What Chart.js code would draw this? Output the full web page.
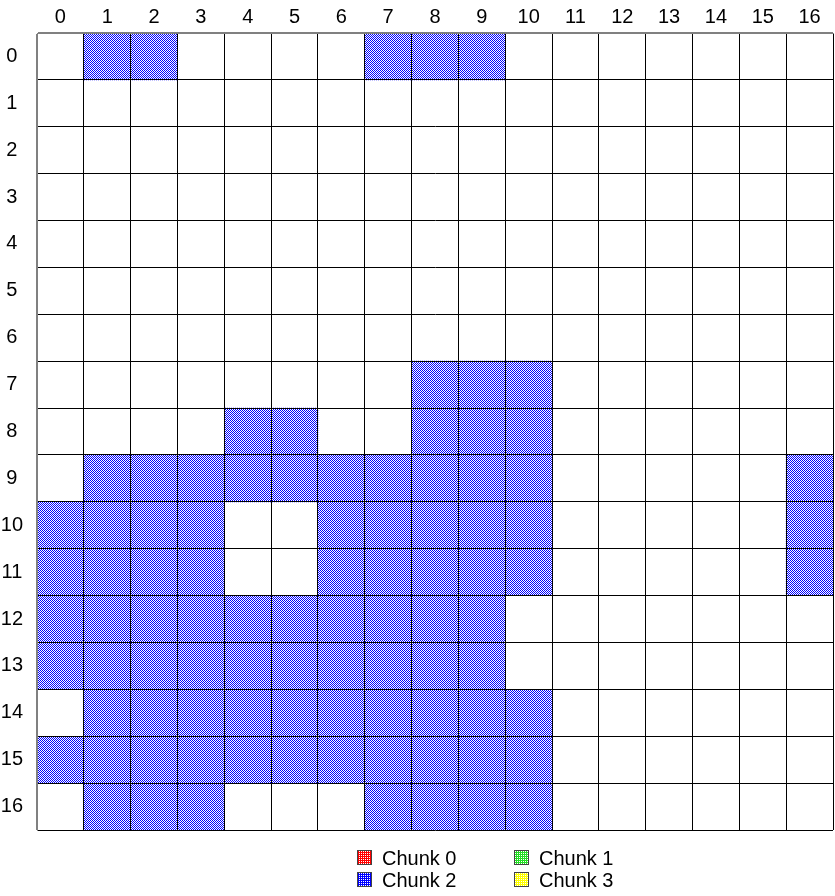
<!DOCTYPE html>
<html>
<head>
<meta charset="utf-8">
<script src="https://cdn.jsdelivr.net/npm/chart.js@4.4.1/dist/chart.umd.min.js"></script>
<style>
html,body{margin:0;padding:0;background:#ffffff;}
#wrap{width:835px;height:896px;position:relative;}
</style>
</head>
<body>
<div id="wrap"><canvas id="c"></canvas></div>
<script>
// ---- data ----
const colLabels = ['0','1','2','3','4','5','6','7','8','9','10','11','12','13','14','15','16'];
const rowLabels = ['0','1','2','3','4','5','6','7','8','9','10','11','12','13','14','15','16'];
const chunkNames = ['Chunk 0', 'Chunk 1', 'Chunk 2', 'Chunk 3'];
const chunkColors = ['#ff0000', '#22dd22', '#0000ff', '#ffff00'];

// column indices owned by each chunk, listed row by row (row 0 first)
const chunk0Rows = [];
const chunk1Rows = [];
const chunk2Rows = [
  [1, 2, 7, 8, 9],
  [],
  [],
  [],
  [],
  [],
  [],
  [8, 9, 10],
  [4, 5, 8, 9, 10],
  [1, 2, 3, 4, 5, 6, 7, 8, 9, 10, 16],
  [0, 1, 2, 3, 6, 7, 8, 9, 10, 16],
  [0, 1, 2, 3, 6, 7, 8, 9, 10, 16],
  [0, 1, 2, 3, 4, 5, 6, 7, 8, 9],
  [0, 1, 2, 3, 4, 5, 6, 7, 8, 9],
  [1, 2, 3, 4, 5, 6, 7, 8, 9, 10],
  [0, 1, 2, 3, 4, 5, 6, 7, 8, 9, 10],
  [1, 2, 3, 7, 8, 9, 10]
];
const chunk3Rows = [];

// ---- helpers ----
function toCells(rows) {
  return rows.flatMap((cols, r) => cols.map(c => ({ x: colLabels[c], y: [r, r + 1] })));
}
function checker(color) {
  const c = document.createElement('canvas');
  c.width = 2; c.height = 2;
  const g = c.getContext('2d');
  g.fillStyle = '#ffffff'; g.fillRect(0, 0, 2, 2);
  g.fillStyle = color; g.fillRect(0, 0, 1, 1); g.fillRect(1, 1, 1, 1);
  return g.createPattern(c, 'repeat');
}
function dotted(color) {
  const c = document.createElement('canvas');
  c.width = 2; c.height = 2;
  const g = c.getContext('2d');
  g.fillStyle = color; g.fillRect(0, 0, 2, 2);
  g.fillStyle = '#ffffff'; g.fillRect(1, 1, 1, 1);
  return g.createPattern(c, 'repeat');
}

const allRows = [chunk0Rows, chunk1Rows, chunk2Rows, chunk3Rows];
const datasets = chunkNames.map((name, i) => ({
  label: name,
  data: toCells(allRows[i]),
  backgroundColor: checker(chunkColors[i]),
  legendFill: dotted(chunkColors[i]),
  borderWidth: 0,
  xAxisID: 'x',
  yAxisID: 'y',
  grouped: false,
  categoryPercentage: 1.0,
  barPercentage: 1.0
}));

const GRID_DARK = '#000000';
const GRID_EDGE = '#808080';

const gridLegend = {
  id: 'gridLegend',
  afterDraw(chart) {
    const ctx = chart.ctx;
    const area = chart.chartArea;
    const x0 = Math.round(chart.width / 2 - 60.5);
    const y0 = Math.round(area.bottom + 28);
    const colW = 157, rowH = 22, box = 15;
    ctx.save();
    ctx.font = '20px "Liberation Sans", Arial, sans-serif';
    ctx.textBaseline = 'middle';
    ctx.textAlign = 'left';
    chart.data.datasets.forEach((d, i) => {
      const x = x0 + (i % 2) * colW;
      const y = y0 + Math.floor(i / 2) * rowH;
      ctx.fillStyle = d.legendFill;
      ctx.fillRect(x, y - 8, box, box);
      ctx.strokeStyle = '#444444';
      ctx.lineWidth = 1;
      ctx.strokeRect(x + 0.5, y - 7.5, box - 1, box - 1);
      ctx.fillStyle = '#000000';
      ctx.fillText(d.label, x + 25, y + 1);
    });
    ctx.restore();
  }
};

Chart.defaults.font.family = '"Liberation Sans", Arial, sans-serif';
Chart.defaults.font.size = 20;
Chart.defaults.color = '#000000';

new Chart(document.getElementById('c'), {
  type: 'bar',
  data: { labels: colLabels, datasets },
  options: {
    responsive: true,
    maintainAspectRatio: false,
    animation: false,
    events: [],
    layout: { padding: { top: 0, left: 0, right: 2, bottom: 66 } },
    plugins: { legend: { display: false }, tooltip: { enabled: false }, title: { display: false } },
    scales: {
      x: {
        type: 'category',
        position: 'top',
        labels: colLabels,
        offset: true,
        grid: {
          offset: true,
          drawTicks: false,
          z: 1,
          lineWidth: 1,
          color: (c) => (c.index === 0 || c.index === colLabels.length) ? GRID_EDGE : GRID_DARK
        },
        border: { display: true, color: GRID_EDGE, width: 1, z: 1 },
        ticks: { padding: 4, maxRotation: 0, autoSkip: false, font: { size: 20 } },
        afterFit: (s) => { s.height = 33; }
      },
      yLab: {
        type: 'category',
        position: 'left',
        labels: rowLabels,
        offset: true,
        grid: {
          offset: true,
          drawTicks: false,
          z: 1,
          lineWidth: 1,
          color: (c) => (c.index === 0 || c.index === rowLabels.length) ? GRID_EDGE : GRID_DARK
        },
        border: { display: true, color: GRID_EDGE, width: 1, z: 1 },
        ticks: { padding: 14, crossAlign: 'center', autoSkip: false, font: { size: 20 } },
        afterFit: (s) => { s.width = 37; }
      },
      y: {
        type: 'linear',
        display: false,
        reverse: true,
        min: 0,
        max: rowLabels.length
      }
    }
  },
  plugins: [gridLegend]
});
</script>
</body>
</html>
